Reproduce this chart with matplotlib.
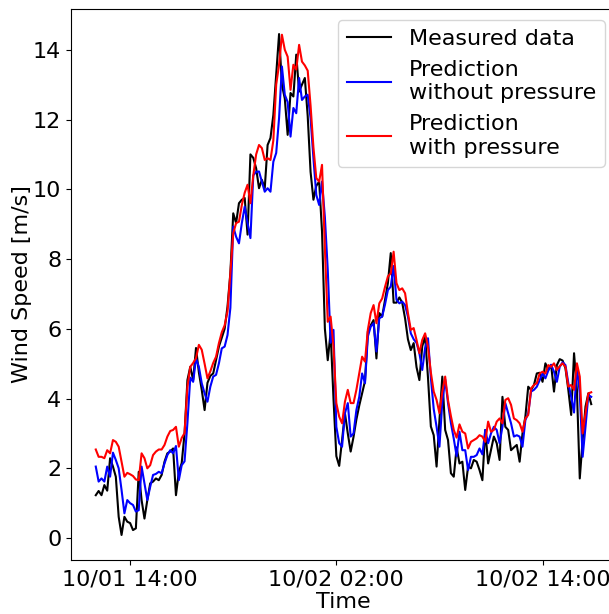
import matplotlib
matplotlib.use("Agg")
import matplotlib.pyplot as plt
import matplotlib.dates as mdates
import pandas as pd
import numpy as np

times = pd.date_range("2021-10-01 12:00", periods=174, freq="10min")

measured = [
    1.23, 1.35, 1.23, 1.52, 1.36, 2.29, 2.05, 1.76, 0.61, 0.09,
    0.61, 0.47, 0.43, 0.23, 0.28, 1.90, 1.09, 0.56, 1.09, 1.57,
    1.62, 1.71, 1.66, 1.81, 2.19, 2.43, 2.48, 2.57, 1.23, 1.90,
    2.15, 3.00, 4.53, 4.91, 4.53, 5.45, 4.75, 4.25, 3.67, 4.45,
    4.65, 4.72, 5.11, 5.49, 5.75, 6.00, 6.64, 7.60, 9.31, 9.03,
    9.60, 9.70, 9.75, 8.70, 11.00, 10.90, 10.60, 10.03, 10.27, 10.03,
    11.27, 11.47, 12.13, 13.28, 14.45, 12.99, 12.60, 11.56, 12.76, 12.66,
    13.86, 12.80, 13.00, 13.19, 12.10, 10.50, 9.70, 10.10, 10.22, 8.79,
    6.00, 5.10, 5.90, 4.00, 2.35, 2.07, 2.81, 3.58, 3.00, 2.48,
    2.90, 3.40, 3.80, 4.15, 4.50, 5.92, 6.10, 6.25, 5.15, 6.45,
    6.35, 6.83, 7.31, 8.17, 6.75, 6.75, 6.90, 6.75, 6.30, 5.70,
    5.39, 5.59, 4.90, 4.53, 5.50, 5.78, 4.60, 3.20, 2.95, 2.05,
    3.38, 4.63, 3.10, 2.81, 1.86, 1.76, 2.60, 2.14, 2.19, 1.38,
    2.05, 2.00, 2.24, 2.19, 1.95, 1.66, 3.10, 2.14, 2.52, 2.91,
    2.72, 2.24, 4.05, 3.19, 3.10, 2.52, 2.60, 2.67, 2.19, 3.00,
    3.48, 4.34, 4.25, 4.39, 4.72, 4.74, 4.48, 5.01, 4.82, 4.96,
    4.20, 4.96, 5.13, 5.09, 4.87, 4.25, 3.53, 5.30, 4.25, 1.71,
    2.81, 3.77, 4.15, 3.84,
]

pred_no_pressure = [
    2.05, 1.62, 1.71, 1.62, 2.05, 1.76, 2.45, 2.24, 2.00, 1.38,
    0.71, 1.09, 1.00, 0.95, 0.76, 0.80, 2.05, 1.57, 1.09, 1.47,
    1.81, 1.84, 1.90, 1.86, 2.14, 2.38, 2.52, 2.43, 2.64, 1.66,
    2.09, 2.20, 3.30, 4.60, 4.48, 5.15, 4.91, 4.44, 4.15, 3.91,
    4.34, 4.63, 4.68, 5.01, 5.44, 5.49, 5.82, 6.60, 8.93, 8.64,
    8.45, 9.03, 9.50, 9.03, 8.60, 10.40, 10.50, 10.51, 10.22, 9.93,
    10.03, 9.93, 10.79, 11.04, 12.04, 13.52, 12.71, 12.50, 11.51, 12.33,
    12.18, 13.19, 12.56, 12.66, 12.71, 12.04, 10.89, 9.84, 9.55, 10.22,
    9.20, 7.70, 5.60, 5.97, 3.19, 2.72, 2.62, 3.58, 3.87, 2.91,
    3.00, 3.67, 4.05, 4.72, 4.44, 5.78, 6.06, 6.16, 5.35, 6.30,
    6.35, 6.70, 7.11, 7.21, 7.80, 6.83, 6.73, 6.78, 6.68, 6.35,
    5.87, 5.70, 5.60, 5.30, 4.82, 5.45, 5.73, 4.60, 3.70, 3.19,
    2.62, 3.90, 4.55, 3.87, 3.30, 2.85, 2.35, 3.05, 2.52, 2.52,
    1.95, 2.33, 2.33, 2.38, 2.57, 2.40, 3.10, 2.72, 3.00, 3.19,
    3.10, 2.72, 3.19, 3.87, 3.58, 3.29, 2.91, 2.95, 2.91, 2.62,
    3.38, 3.58, 4.20, 4.25, 4.34, 4.53, 4.72, 4.58, 4.80, 4.97,
    4.77, 4.48, 4.91, 5.04, 4.96, 4.44, 4.05, 3.60, 4.91, 4.15,
    2.33, 3.19, 4.10, 4.05,
]

pred_with_pressure = [
    2.54, 2.33, 2.33, 2.29, 2.52, 2.43, 2.81, 2.76, 2.62, 2.19,
    1.76, 1.87, 1.83, 1.78, 1.68, 1.66, 2.43, 2.29, 2.00, 2.09,
    2.38, 2.48, 2.54, 2.54, 2.67, 2.91, 3.07, 3.10, 3.19, 2.62,
    2.87, 3.01, 4.34, 4.91, 5.02, 5.16, 5.54, 5.40, 5.00, 4.58,
    4.78, 5.02, 5.20, 5.59, 5.90, 6.10, 6.50, 7.59, 8.74, 9.03,
    9.07, 9.55, 9.90, 10.13, 9.60, 10.40, 11.00, 11.27, 11.18, 10.84,
    10.89, 10.84, 11.40, 13.00, 13.57, 14.43, 14.00, 13.80, 12.85, 13.57,
    13.43, 14.14, 13.66, 13.55, 13.40, 12.40, 11.20, 10.32, 10.22, 10.70,
    8.30, 6.20, 6.35, 5.50, 3.87, 3.48, 3.29, 3.91, 4.25, 3.87,
    3.87, 4.25, 4.72, 5.20, 5.06, 5.97, 6.45, 6.68, 6.16, 6.73,
    6.87, 7.20, 7.50, 7.59, 8.21, 7.31, 7.11, 7.16, 7.02, 6.45,
    5.97, 6.02, 5.68, 5.30, 5.68, 5.87, 5.49, 4.75, 4.20, 3.96,
    3.58, 4.20, 4.63, 3.95, 3.50, 3.10, 2.88, 3.26, 3.05, 3.00,
    2.57, 2.76, 2.81, 2.86, 2.95, 2.91, 2.76, 3.34, 3.05, 3.10,
    3.34, 3.43, 3.29, 3.96, 4.01, 3.82, 3.43, 3.38, 3.29, 3.05,
    3.43, 3.53, 4.29, 4.39, 4.44, 4.72, 4.77, 4.72, 4.96, 4.91,
    5.01, 4.82, 4.93, 5.01, 4.91, 4.34, 4.39, 4.25, 5.01, 4.63,
    3.00, 3.58, 4.15, 4.18,
]

labels = ["Measured data", "Prediction\nwithout pressure", "Prediction\nwith pressure"]
colors = ["black", "blue", "red"]

plt.rcParams["font.family"] = ["DejaVu Sans"]
fig = plt.figure(figsize=(6.09, 6.14), dpi=100)
# the axes runs slightly past the right edge of the canvas, as in the reference
ax = fig.add_axes([71 / 609, 54 / 614, 545 / 609, 551 / 614])

for series, lab, col in zip([measured, pred_no_pressure, pred_with_pressure], labels, colors):
    ax.plot(times, series, color=col, lw=1.5, label=lab)

ax.set_yticks(np.arange(0, 15, 2))
ax.xaxis.set_major_locator(mdates.HourLocator(byhour=[2, 14]))
ax.xaxis.set_major_formatter(mdates.DateFormatter("%m/%d %H:%M"))
ax.tick_params(labelsize=16)
ax.set_xlabel("Time", fontsize=16, labelpad=2)
ax.set_ylabel("Wind Speed [m/s]", fontsize=16, labelpad=1)
ax.legend(loc="upper right", fontsize=16)

fig.savefig("out.png", dpi=100)
